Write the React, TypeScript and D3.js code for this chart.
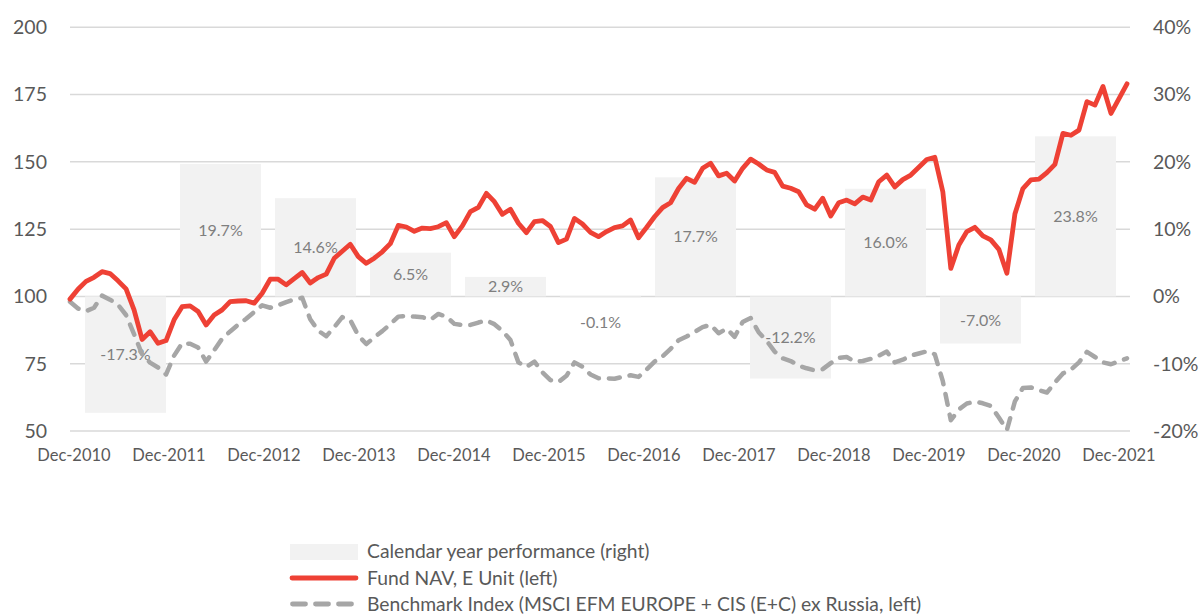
import React from "react";
import * as d3 from "d3";

// x-axis labels (one per year end)
const yearLabels = [
  "Dec-2010", "Dec-2011", "Dec-2012", "Dec-2013", "Dec-2014", "Dec-2015",
  "Dec-2016", "Dec-2017", "Dec-2018", "Dec-2019", "Dec-2020", "Dec-2021",
];

// calendar year performance, % (right axis)
const barYears = ["2011", "2012", "2013", "2014", "2015", "2016", "2017", "2018", "2019", "2020", "2021"];
const barValues = [-17.3, 19.7, 14.6, 6.5, 2.9, -0.1, 17.7, -12.2, 16.0, -7.0, 23.8];

// monthly, Dec-2010 .. Dec-2021 (left axis)
const fundNav = [
  99, 102.7, 105.6, 107.1, 109.2, 108.5, 105.8, 102.8, 95, 84, 86.9, 82.6, 83.6,
  91.3, 96.2, 96.5, 94.4, 89.4, 93.1, 95, 98.1, 98.3, 98.4, 97.5, 101.2,
  106.4, 106.4, 104.3, 106.6, 108.9, 105, 107, 108.3, 114.2, 116.8, 119.4, 114.8,
  112.3, 114.2, 116.6, 119.6, 126.4, 125.8, 124.2, 125.4, 125.2, 125.9, 127.4, 122.2,
  126.2, 131.5, 133.1, 138.3, 135.2, 130.5, 132.4, 127.2, 123.7, 127.8, 128.2, 126,
  120, 121.3, 129, 126.9, 123.8, 122.2, 124.1, 125.6, 126.2, 128.4, 121.8, 125.6,
  129.6, 133, 134.8, 140.1, 143.9, 142.4, 147.6, 149.5, 144.8, 145.8, 142.9, 147.6,
  151, 149.2, 147, 146.1, 141, 140.2, 138.9, 134, 132.4, 136.5, 129.9, 134.8,
  135.8, 134.4, 136.9, 135.8, 142.6, 145.1, 140.7, 143.4, 145.1, 148, 150.9, 151.7,
  138.9, 110.4, 119.1, 124.1, 125.7, 122.5, 121, 117.5, 108.6, 130.6, 140.1, 143.3,
  143.6, 146, 149.1, 160.6, 159.9, 161.8, 172.4, 171.1, 178, 168, 173.5, 179,
];

const benchmark = [
  98, 95.5, 94.5, 95.8, 100.3, 98.8, 96.9, 93.1, 86, 78.5, 75.4, 73.6, 71,
  78, 82.6, 82.4, 81, 75.8, 80, 84.3, 87, 89.5, 91.7, 94.2, 96.7,
  95.8, 96.7, 97.9, 98.9, 99.5, 91.5, 87.3, 85.2, 88.6, 92.3, 91.2, 85.5,
  82.3, 84.8, 87.1, 89.7, 92.5, 92.8, 92.5, 92.3, 91.3, 93.5, 92.5, 89.8,
  89.4, 89.4, 90.3, 91.1, 89.7, 87.2, 83.8, 75.5, 73.8, 75.8, 71.8, 68.9,
  68.2, 70.5, 75.5, 73.9, 71, 69.6, 69.6, 69.4, 70.1, 70.7, 70.1, 72.8,
  75.8, 77.7, 80.5, 83.7, 85.1, 86.8, 88.6, 89.5, 86.3, 88, 85, 90.5,
  92, 86.7, 83.5, 79.5, 77, 76, 74.3, 73.3, 72.5, 73, 75.2, 77.2,
  77.5, 75.8, 76, 76.8, 78, 79.5, 75.5, 76.5, 78, 78.8, 79.6, 78.5,
  68.5, 54, 58, 60.2, 60.9, 60.3, 59.3, 55, 50.4, 61, 66, 66.2,
  65.2, 64.3, 68, 71.4, 72.8, 75.5, 79.4, 77.5, 75.5, 74.8, 75.9, 77,
];

const leftTicks = [50, 75, 100, 125, 150, 175, 200];
const rightTicks = [-20, -10, 0, 10, 20, 30, 40];

const legendItems = [
  "Calendar year performance (right)",
  "Fund NAV, E Unit (left)",
  "Benchmark Index (MSCI EFM EUROPE + CIS (E+C) ex Russia, left)",
];

const W = 1203;
const H = 616;
const FONT = "Lato, 'Open Sans', sans-serif";
const RED = "#ee4135";
const GREY = "#a6a6a6";
const BAR = "#f2f2f2";
const TEXT = "#595959";

export default function App() {
  const plotLeft = 70;
  const plotRight = 1130;
  const yLeft = d3.scaleLinear().domain([50, 200]).range([431, 27.3]);
  const yRight = d3.scaleLinear().domain([-20, 40]).range([431, 27.3]);

  const xMonth = d3.scaleLinear().domain([0, fundNav.length - 1]).range([70, 1127]);
  const xBar = d3.scaleBand().domain(barYears).range([78, 1123]).paddingInner(0.147).paddingOuter(0.0735);
  const xLabel = d3.scalePoint().domain(yearLabels).range([74, 1119]);

  const line = d3
    .line<number>()
    .x((_, i) => xMonth(i))
    .y((d) => yLeft(d))
    .curve(d3.curveLinear);

  const zero = yRight(0);

  return (
    <svg
      width={W}
      height={H}
      style={{ position: "absolute", left: 0, top: 0, background: "#fff" }}
      fontFamily={FONT}
    >
      {/* gridlines */}
      {leftTicks.map((t) => (
        <line
          key={"g" + t}
          x1={plotLeft}
          x2={plotRight}
          y1={yLeft(t)}
          y2={yLeft(t)}
          stroke="#d9d9d9"
          strokeWidth={1.5}
        />
      ))}

      {/* calendar year bars */}
      {barValues.map((v, i) => {
        const yv = yRight(v);
        return (
          <rect
            key={"b" + i}
            x={xBar(barYears[i])}
            y={Math.min(yv, zero)}
            width={xBar.bandwidth()}
            height={Math.max(1.5, Math.abs(yv - zero))}
            fill={BAR}
          />
        );
      })}
      {barValues.map((v, i) => {
        const ly = Math.abs(v) < 1 ? yRight(-3.9) : yRight(v / 2);
        return (
          <text
            key={"bl" + i}
            x={(xBar(barYears[i]) as number) + xBar.bandwidth() / 2}
            y={ly}
            dy="0.35em"
            textAnchor="middle"
            fontSize={16}
            fill="#7f7f7f"
          >
            {v.toFixed(1) + "%"}
          </text>
        );
      })}

      {/* benchmark */}
      <path
        d={line(benchmark) || ""}
        fill="none"
        stroke={GREY}
        strokeWidth={4.5}
        strokeDasharray="11 10"
        strokeLinecap="round"
        strokeLinejoin="round"
      />
      {/* fund NAV */}
      <path
        d={line(fundNav) || ""}
        fill="none"
        stroke={RED}
        strokeWidth={4.8}
        strokeLinejoin="round"
        strokeLinecap="round"
      />

      {/* left axis */}
      {leftTicks.map((t) => (
        <text key={"l" + t} x={47} y={yLeft(t)} dy="0.35em" textAnchor="end" fontSize={19.5} fill={TEXT}>
          {t}
        </text>
      ))}
      {/* right axis */}
      {rightTicks.map((t) => (
        <text key={"r" + t} x={1153} y={yRight(t)} dy="0.35em" textAnchor="start" fontSize={19.5} fill={TEXT}>
          {t + "%"}
        </text>
      ))}
      {/* x labels */}
      {yearLabels.map((l) => (
        <text key={l} x={xLabel(l)} y={455} dy="0.35em" textAnchor="middle" fontSize={16.5} fill={TEXT}>
          {l}
        </text>
      ))}

      {/* legend */}
      <g transform="translate(290,0)">
        <rect x={0} y={544} width={68} height={16} fill={BAR} />
        <line x1={2} x2={66} y1={578} y2={578} stroke={RED} strokeWidth={4.8} strokeLinecap="round" />
        <line
          x1={2.5}
          x2={68}
          y1={604}
          y2={604}
          stroke={GREY}
          strokeWidth={4.8}
          strokeDasharray="13 10"
          strokeLinecap="round"
        />
        {legendItems.map((t, i) => (
          <text key={t} x={77} y={551.5 + i * 26.5} dy="0.35em" fontSize={19.3} fill={TEXT}>
            {t}
          </text>
        ))}
      </g>
    </svg>
  );
}
